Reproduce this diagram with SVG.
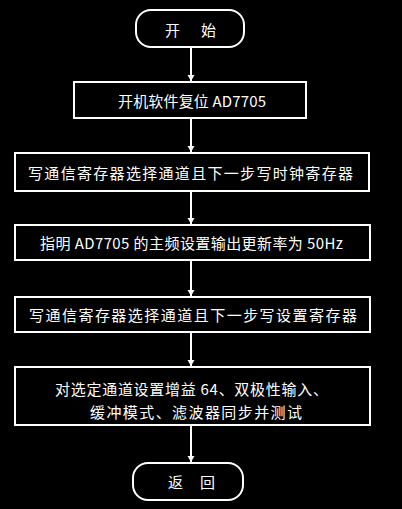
<svg xmlns="http://www.w3.org/2000/svg" width="402" height="509" viewBox="0 0 402 509">
<defs>
<marker id="arr" viewBox="0 0 6 10" refX="6" refY="5" markerWidth="6" markerHeight="10" markerUnits="userSpaceOnUse" orient="auto">
<path d="M0,1.5 L6,5 L0,8.5 Z" fill="#fff"/>
</marker>
<style>
.box{fill:none;stroke:#fff;stroke-width:2}
.t{fill:#fff;font-family:"Noto Sans CJK SC","Noto Sans",sans-serif;font-size:15px;text-anchor:middle;dominant-baseline:central}
.c{stroke:#fff;stroke-width:2;fill:none;marker-end:url(#arr)}
</style>
</defs>
<rect x="0" y="0" width="402" height="509" fill="#000"/>
<g id="connectors">
<line class="c" x1="191" y1="47" x2="191" y2="81"/>
<line class="c" x1="191" y1="118" x2="191" y2="152"/>
<line class="c" x1="191" y1="191" x2="191" y2="224"/>
<line class="c" x1="191" y1="260" x2="191" y2="296"/>
<line class="c" x1="191" y1="332" x2="191" y2="366"/>
<line class="c" x1="191" y1="425" x2="191" y2="462"/>
</g>
<g id="start">
<rect class="box" x="136" y="10" width="108" height="37" rx="15"/>
<text class="t" x="190.5" y="29" textLength="51" lengthAdjust="spacing">开 始</text>
</g>
<g id="n1">
<rect class="box" x="74" y="82" width="232" height="36"/>
<text class="t" x="192" y="100" textLength="148" lengthAdjust="spacing">开机软件复位 AD7705</text>
</g>
<g id="n2">
<rect class="box" x="15" y="153" width="354" height="38"/>
<text class="t" x="190.5" y="172" textLength="325" lengthAdjust="spacing">写通信寄存器选择通道且下一步写时钟寄存器</text>
</g>
<g id="n3">
<rect class="box" x="15" y="225" width="355" height="35"/>
<text class="t" x="191.5" y="242.5" textLength="303" lengthAdjust="spacing">指明 AD7705 的主频设置输出更新率为 50Hz</text>
</g>
<g id="n4">
<rect class="box" x="15" y="297" width="355" height="35"/>
<text class="t" x="193" y="314.5" textLength="328" lengthAdjust="spacing">写通信寄存器选择通道且下一步写设置寄存器</text>
</g>
<g id="n5">
<rect class="box" x="15" y="367" width="355" height="58"/>
<text class="t" x="191.5" y="388" textLength="273" lengthAdjust="spacing">对选定通道设置增益 64、双极性输入、</text>
<text class="t" x="196" y="411" textLength="212" lengthAdjust="spacing">缓冲模式、滤波器同步并测试</text>
</g>
<g id="end">
<rect class="box" x="133" y="463" width="110" height="37" rx="15"/>
<text class="t" x="191.5" y="481.5" textLength="47" lengthAdjust="spacing">返 回</text>
</g>
</svg>
